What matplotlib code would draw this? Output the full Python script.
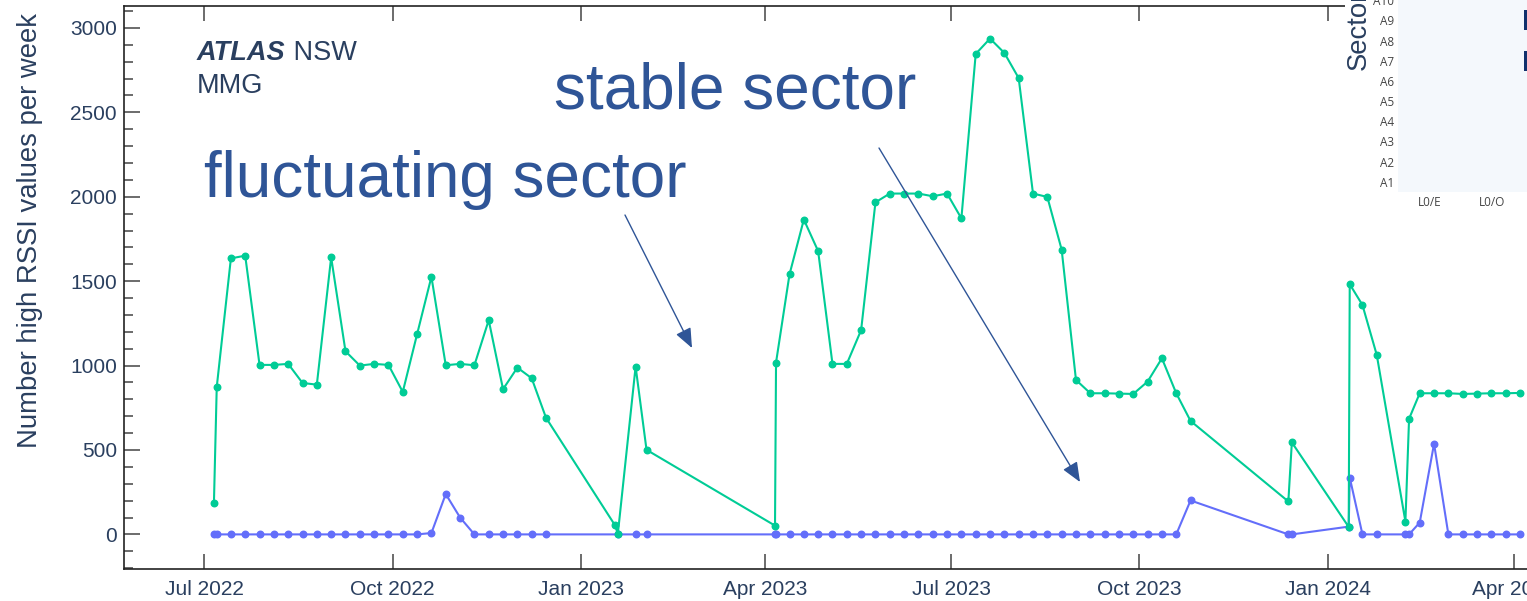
import numpy as np
import pandas as pd
import matplotlib
matplotlib.use('Agg')
import matplotlib.pyplot as plt
import matplotlib.dates as mdates
from matplotlib.colors import LinearSegmentedColormap
from matplotlib.patches import Rectangle, FancyArrowPatch
from matplotlib.ticker import MultipleLocator

plt.rcParams['font.family'] = ['Liberation Sans', 'DejaVu Sans']

W, H = 1527, 601
TXT = '#2a3f5f'
ANN = '#2f5597'

# weekly counts of high RSSI values, stable sector
stable_dates = [
    '2022-07-05 17:00', '2022-07-07 02:00', '2022-07-14', '2022-07-21',
    '2022-07-28', '2022-08-04', '2022-08-11', '2022-08-18', '2022-08-25',
    '2022-09-01', '2022-09-08', '2022-09-15', '2022-09-22', '2022-09-29',
    '2022-10-06', '2022-10-13', '2022-10-20', '2022-10-27', '2022-11-03',
    '2022-11-10', '2022-11-17', '2022-11-24', '2022-12-01', '2022-12-08',
    '2022-12-15',
    '2023-01-19 03:00', '2023-01-27 19:00', '2023-02-02 03:00',
    '2023-04-05 22:00', '2023-04-06 10:00', '2023-04-13', '2023-04-20',
    '2023-04-27', '2023-05-04', '2023-05-11', '2023-05-18', '2023-05-25',
    '2023-06-01', '2023-06-08', '2023-06-15', '2023-06-22', '2023-06-29',
    '2023-07-06', '2023-07-13', '2023-07-20', '2023-07-27', '2023-08-03',
    '2023-08-10', '2023-08-17', '2023-08-24', '2023-08-31', '2023-09-07',
    '2023-09-14', '2023-09-21', '2023-09-28', '2023-10-05', '2023-10-12',
    '2023-10-19', '2023-10-26',
    '2023-12-12 19:00', '2023-12-14 12:00', '2024-01-11 07:00',
    '2024-01-11 19:00', '2024-01-18', '2024-01-25', '2024-02-08',
    '2024-02-09 19:00', '2024-02-15', '2024-02-22', '2024-02-29',
    '2024-03-07', '2024-03-14', '2024-03-21', '2024-03-28', '2024-04-04',
]
stable_counts = [
    0, 0, 0, 0, 0, 0, 0, 0, 0, 0, 0, 0, 0, 0, 0, 0, 8, 239, 100,
    0, 0, 0, 0, 0, 0,
    0, 0, 0,
    0, 0, 0, 0, 0, 0, 0, 0, 0, 0, 0, 0, 0, 0, 0, 0, 0, 0, 0, 0, 0,
    0, 0, 0, 0, 0, 0, 0, 0, 0, 201,
    0, 0, 46, 337, 0, 0, 0, 0, 70, 537, 0, 0, 0, 0, 0, 0,
]

# weekly counts of high RSSI values, fluctuating sector
fluct_dates = [
    '2022-07-05 17:00', '2022-07-07 02:00', '2022-07-14', '2022-07-21',
    '2022-07-28', '2022-08-04', '2022-08-11', '2022-08-18', '2022-08-25',
    '2022-09-01', '2022-09-08', '2022-09-15', '2022-09-22', '2022-09-29',
    '2022-10-06', '2022-10-13', '2022-10-20', '2022-10-27', '2022-11-03',
    '2022-11-10', '2022-11-17', '2022-11-24', '2022-12-01', '2022-12-08',
    '2022-12-15',
    '2023-01-17 12:00', '2023-01-19 03:00', '2023-01-27 19:00',
    '2023-02-02 03:00',
    '2023-04-05 22:00', '2023-04-06 10:00', '2023-04-13', '2023-04-20',
    '2023-04-27', '2023-05-04', '2023-05-11', '2023-05-18', '2023-05-25',
    '2023-06-01', '2023-06-08', '2023-06-15', '2023-06-22', '2023-06-29',
    '2023-07-06', '2023-07-13', '2023-07-20', '2023-07-27', '2023-08-03',
    '2023-08-10', '2023-08-17', '2023-08-24', '2023-08-31', '2023-09-07',
    '2023-09-14', '2023-09-21', '2023-09-28', '2023-10-05', '2023-10-12',
    '2023-10-19', '2023-10-26',
    '2023-12-12 19:00', '2023-12-14 12:00', '2024-01-11 07:00',
    '2024-01-11 19:00', '2024-01-18', '2024-01-25', '2024-02-08',
    '2024-02-09 19:00', '2024-02-15', '2024-02-22', '2024-02-29',
    '2024-03-07', '2024-03-14', '2024-03-21', '2024-03-28', '2024-04-04',
]
fluct_counts = [
    185, 873, 1635, 1651, 1004, 1004, 1010, 897, 887, 1641, 1085, 1000,
    1010, 1004, 844, 1186, 1526, 1002, 1010, 1002, 1269, 860, 988, 925,
    691,
    58, 5, 994, 501,
    52, 1018, 1540, 1865, 1678, 1010, 1010, 1210, 1967, 2019, 2019, 2019,
    2003, 2019, 1872, 2846, 2937, 2852, 2703, 2019, 1999, 1687, 915, 836,
    836, 834, 832, 905, 1043, 836, 672,
    195, 545, 44, 1482, 1359, 1063, 76, 685, 836, 836, 836, 832, 834, 836,
    836, 838,
]

# sector map (rows A1..A10, columns per layer)
sector_rows = ['A1', 'A2', 'A3', 'A4', 'A5', 'A6', 'A7', 'A8', 'A9', 'A10']
sector_cols = ['L0/E', 'L0/O', '']
sector_map = [
    [0, 0, 0], [0, 0, 0], [0, 0, 0], [0, 0, 0], [0, 0, 0],
    [0, 0, 0], [0, 0, 1], [0, 0, 0], [0, 0, 1], [0, 0, 0],
]


def fx(x):
    return x / W


def fy(y):
    # pixel measured from the top edge
    return 1 - y / H


def to_dates(values):
    return pd.to_datetime(values, format='ISO8601')


fig = plt.figure(figsize=(W / 100, H / 100), dpi=100)
ax = fig.add_axes([fx(124), fy(569), (1600 - 124) / W, (569 - 6) / H])

ax.plot(to_dates(stable_dates), stable_counts, color='#636efa',
        lw=1.5, marker='o', ms=4.7, zorder=3)
ax.plot(to_dates(fluct_dates), fluct_counts, color='#00cc96',
        lw=1.5, marker='o', ms=4.7, zorder=4)

x0 = mdates.date2num(pd.Timestamp('2022-07-01'))
ax.set_xlim(x0 - 39.24, x0 + 682.1)
ax.set_ylim(-205, 3130)

ax.xaxis.set_major_locator(mdates.MonthLocator(bymonth=[1, 4, 7, 10]))
ax.xaxis.set_major_formatter(mdates.DateFormatter('%b %Y'))
ax.yaxis.set_major_locator(MultipleLocator(500))
ax.yaxis.set_minor_locator(MultipleLocator(100))
ax.tick_params(which='both', direction='in', color='#444444', width=1.1)
ax.tick_params(axis='x', which='major', top=True, length=11, pad=8,
               labelsize=15, labelcolor=TXT)
ax.tick_params(axis='y', which='major', length=11.5, pad=5,
               labelsize=15, labelcolor=TXT)
ax.tick_params(axis='y', which='minor', length=6.5)
for side in ['left', 'bottom', 'top']:
    ax.spines[side].set_color('#222222')
    ax.spines[side].set_linewidth(1.2)
ax.spines['right'].set_visible(False)

fig.text(fx(30), fy(230), 'Number high RSSI values per week', rotation=90,
         ha='center', va='center', fontsize=19.8, color=TXT)

# group label
t_atlas = fig.text(fx(197), fy(60), 'ATLAS', fontsize=19.5,
                   fontweight='bold', fontstyle='italic', color=TXT,
                   va='baseline')
ax.annotate(' NSW', xy=(1, 0), xycoords=t_atlas, va='bottom', ha='left',
            fontsize=19.5, color=TXT, annotation_clip=False)
fig.text(fx(197), fy(93), 'MMG', fontsize=19.5, color=TXT, va='baseline')

# callouts
fig.text(fx(204), fy(197), 'fluctuating sector', fontsize=46, color=ANN,
         va='baseline')
fig.text(fx(554), fy(108), 'stable sector', fontsize=46, color=ANN,
         va='baseline')
for (xa, ya), (xb, yb) in [((625, 215), (692, 348)),
                           ((879, 148), (1080, 482))]:
    fig.add_artist(FancyArrowPatch(
        (fx(xa), fy(ya)), (fx(xb), fy(yb)), transform=fig.transFigure,
        arrowstyle='-|>,head_length=1.2,head_width=0.5', mutation_scale=10,
        lw=1.0, color=ANN, shrinkA=0, shrinkB=0, zorder=2))

# sector map panel in the corner
fig.add_artist(Rectangle((fx(1345), fy(212)), 1 - fx(1345), 212 / H,
                         transform=fig.transFigure, facecolor='white',
                         edgecolor='none', zorder=1))
ins = fig.add_axes([fx(1398), fy(192), 189 / W, 202 / H], zorder=2)
cmap = LinearSegmentedColormap.from_list('sec', ['#f4f8fc', '#10306c'])
ins.imshow(np.array(sector_map), cmap=cmap, aspect='auto', origin='lower',
           vmin=0, vmax=1)
ins.set_yticks(range(len(sector_rows)), sector_rows)
ins.set_xticks(range(len(sector_cols)), sector_cols)
ins.tick_params(length=0, labelsize=8.5, labelcolor='#444444', pad=3)
for lbl in ins.get_xticklabels() + ins.get_yticklabels():
    lbl.set_fontfamily(['Open Sans', 'DejaVu Sans'])
for s in ins.spines.values():
    s.set_visible(False)
fig.text(fx(1359), fy(30), 'Sector', rotation=90, ha='center', va='center',
         fontsize=19.8, color=TXT, zorder=3)

fig.savefig('out.png', dpi=100)
